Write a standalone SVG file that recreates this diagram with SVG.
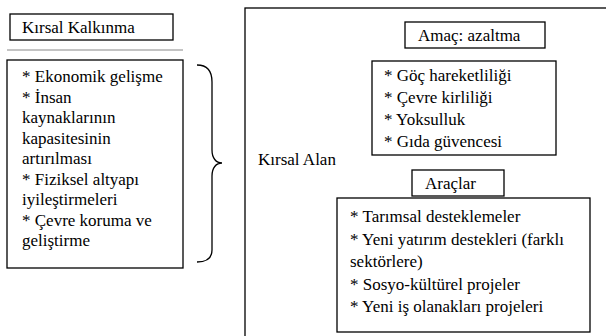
<svg xmlns="http://www.w3.org/2000/svg" width="606" height="336" viewBox="0 0 606 336">
<style>
.box{fill:#fff;stroke:#000;stroke-width:1.3}
</style>
<rect width="606" height="336" fill="#fff"/>
<g id="kirsal-kalkinma">
<rect class="box" x="10" y="14" width="163" height="26"/>
<text style="font-family:'Liberation Serif',serif !important;font-size:17px" x="22" y="33">Kırsal Kalkınma</text>
</g>
<line x1="7" y1="50" x2="183" y2="50" stroke="#888" stroke-width="1"/>
<g id="kalkinma-list">
<rect class="box" x="7" y="60" width="176" height="208"/>
<text style="font-family:'Liberation Serif',serif !important;font-size:17px" x="22" y="82">* Ekonomik gelişme</text>
<text style="font-family:'Liberation Serif',serif !important;font-size:17px" x="22" y="102.5">* İnsan</text>
<text style="font-family:'Liberation Serif',serif !important;font-size:17px" x="22" y="123">kaynaklarının</text>
<text style="font-family:'Liberation Serif',serif !important;font-size:17px" x="22" y="143.5">kapasitesinin</text>
<text style="font-family:'Liberation Serif',serif !important;font-size:17px" x="22" y="164">artırılması</text>
<text style="font-family:'Liberation Serif',serif !important;font-size:17px" x="22" y="184.5">* Fiziksel altyapı</text>
<text style="font-family:'Liberation Serif',serif !important;font-size:17px" x="22" y="205">iyileştirmeleri</text>
<text style="font-family:'Liberation Serif',serif !important;font-size:17px" x="22" y="225.5">* Çevre koruma ve</text>
<text style="font-family:'Liberation Serif',serif !important;font-size:17px" x="22" y="246">geliştirme</text>
</g>
<g id="connectors">
<path d="M197,65 C207,65 212,70 212,82 L212,150 C212,158 216,163 222,163 C216,163 212,168 212,176 L212,250 C212,258 207,262 197,262" fill="none" stroke="#000" stroke-width="1.3"/>
</g>
<g id="kirsal-alan">
<rect class="box" x="245" y="8" width="380" height="340"/>
<text style="font-family:'Liberation Serif',serif !important;font-size:17px" x="258" y="165">Kırsal Alan</text>
</g>
<g id="amac">
<rect class="box" x="405" y="22" width="140" height="26"/>
<text style="font-family:'Liberation Serif',serif !important;font-size:17px" x="418" y="41">Amaç: azaltma</text>
</g>
<g id="amac-list">
<rect class="box" x="372" y="61" width="184" height="94"/>
<text style="font-family:'Liberation Serif',serif !important;font-size:17px" x="384" y="81">* Göç hareketliliği</text>
<text style="font-family:'Liberation Serif',serif !important;font-size:17px" x="384" y="103">* Çevre kirliliği</text>
<text style="font-family:'Liberation Serif',serif !important;font-size:17px" x="384" y="125">* Yoksulluk</text>
<text style="font-family:'Liberation Serif',serif !important;font-size:17px" x="384" y="147">* Gıda güvencesi</text>
</g>
<g id="araclar">
<rect class="box" x="412" y="170" width="92" height="26"/>
<text style="font-family:'Liberation Serif',serif !important;font-size:17px" x="425" y="189">Araçlar</text>
</g>
<g id="araclar-list">
<rect class="box" x="337" y="198" width="253" height="134"/>
<text style="font-family:'Liberation Serif',serif !important;font-size:17px" x="350" y="222">* Tarımsal desteklemeler</text>
<text style="font-family:'Liberation Serif',serif !important;font-size:17px" x="350" y="245">* Yeni yatırım destekleri (farklı</text>
<text style="font-family:'Liberation Serif',serif !important;font-size:17px" x="350" y="267">sektörlere)</text>
<text style="font-family:'Liberation Serif',serif !important;font-size:17px" x="350" y="290">* Sosyo-kültürel projeler</text>
<text style="font-family:'Liberation Serif',serif !important;font-size:17px" x="350" y="312">* Yeni iş olanakları projeleri</text>
</g>
</svg>
